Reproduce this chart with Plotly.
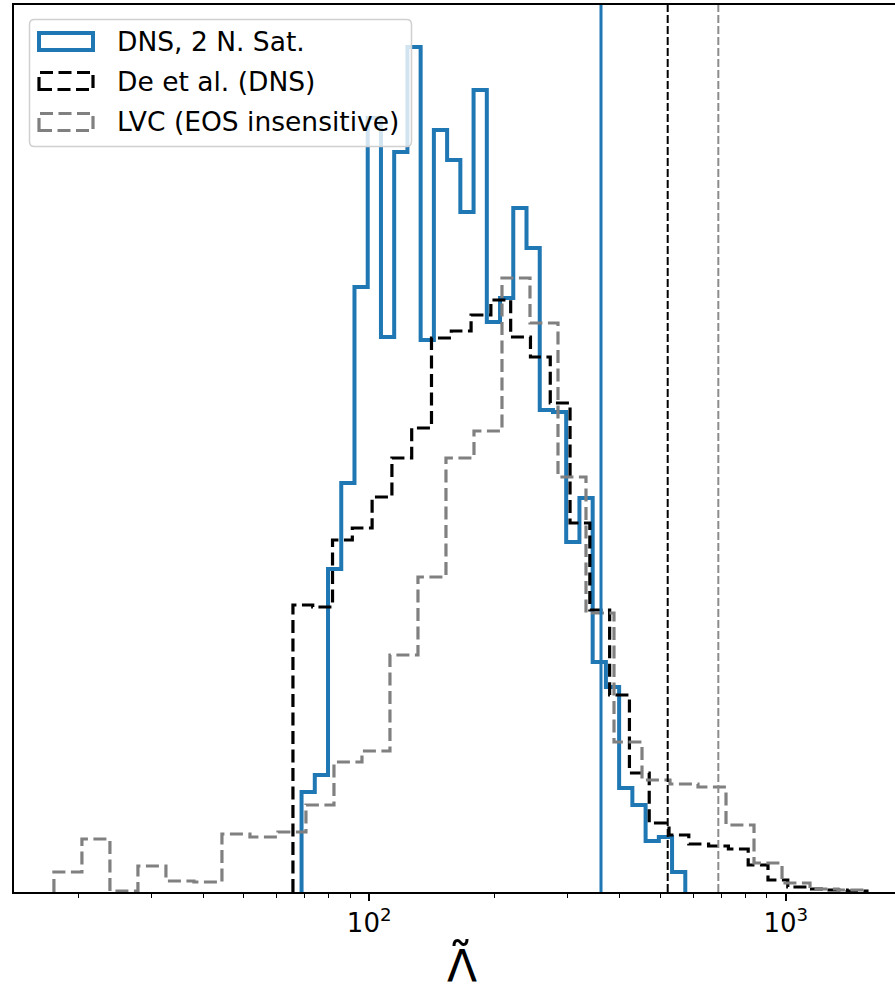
import numpy as np
import plotly.graph_objects as go

# ---------------- data ----------------
# Histogram bin ranges (Lambda-tilde), 29 log-spaced bins each, and bin heights (arbitrary units)
dns_range = [68.8, 574.0]
dns_heights = [100, 117, 323, 409, 605, 774, 555, 740, 845, 552, 762, 732, 680, 802, 570,
               594, 684, 644, 482, 480, 350, 394, 230, 205, 104, 87, 51, 55, 20]

de_range = [65.6, 1567.0]
de_heights = [287, 285, 352, 364, 395, 434, 464, 554, 561, 577, 592, 555, 535, 489, 369,
              282, 197, 119, 69, 57, 48, 46, 43, 27, 12, 5, 3, 2, 1]

lvc_range = [17.5, 1559.0]
lvc_heights = [20, 53, 1, 26, 11, 10, 58, 55, 60, 87, 130, 141, 237, 315, 434,
               461, 614, 569, 415, 279, 150, 112, 108, 105, 67, 29, 9, 3, 2]

# vertical reference lines
dns_vline = 360.2
de_vline = 520.8
lvc_vline = 689.0

labels = ["DNS, 2 N. Sat.", "De et al. (DNS)", "LVC (EOS insensitive)"]
xtick_vals = [100, 1000]
xtick_text = ["10<sup>2</sup>", "10<sup>3</sup>"]

# ---------------- layout constants ----------------
W, H = 895, 992
ML, MR, MT, MB = 14, 0, 5, 100
PW, PH = W - ML - MR, H - MT - MB
YMAX = 887.0
XRANGE = [1.1472, 3.2624]

BLUE = "#1f77b4"
GRAY = "#808080"
FONT = "DejaVu Sans"
HDASH = "13px,5.5px"


def fx(px):
    return (px - ML) / PW


def fy(py):
    return (MT + PH - py) / PH


def step_xy(rng, heights):
    edges = np.logspace(np.log10(rng[0]), np.log10(rng[1]), len(heights) + 1)
    xs = [edges[0]] + list(edges[:-1]) + [edges[-1], edges[-1]]
    ys = [0] + list(heights) + [heights[-1], 0]
    return xs, ys


fig = go.Figure()

for rng, hts, color, width, dash in [
    (dns_range, dns_heights, BLUE, 4, "solid"),
    (de_range, de_heights, "black", 3.2, HDASH),
    (lvc_range, lvc_heights, GRAY, 3.2, HDASH),
]:
    xs, ys = step_xy(rng, hts)
    fig.add_trace(go.Scatter(x=xs, y=ys, mode="lines",
                             line=dict(color=color, width=width, dash=dash, shape="hv"),
                             showlegend=False, hoverinfo="skip"))

for v, color, width, dash in [
    (dns_vline, BLUE, 3, "solid"),
    (de_vline, "black", 2, "8px,3px"),
    (lvc_vline, "#8c8c8c", 2, "8px,3px"),
]:
    fig.add_trace(go.Scatter(x=[v, v], y=[0, YMAX], mode="lines",
                             line=dict(color=color, width=width, dash=dash),
                             showlegend=False, hoverinfo="skip"))

minor_vals = [m * 10 ** e for e in (1, 2, 3) for m in range(2, 10)]

fig.update_layout(
    width=W, height=H,
    margin=dict(l=ML, r=MR, t=MT, b=MB, pad=0),
    plot_bgcolor="white", paper_bgcolor="white",
    font=dict(family=FONT, size=26, color="black"),
    showlegend=False,
    xaxis=dict(type="log", range=XRANGE, showgrid=False, zeroline=False,
               showline=True, linecolor="black", linewidth=2, mirror=True,
               tickmode="array", tickvals=xtick_vals, ticktext=xtick_text,
               ticks="outside", ticklen=7, tickwidth=1.5, tickcolor="black",
               tickfont=dict(family=FONT, size=26, color="black"),
               minor=dict(tickmode="array", tickvals=minor_vals, ticks="outside",
                          ticklen=4, tickwidth=1.2, tickcolor="black", showgrid=False)),
    yaxis=dict(range=[0, YMAX], showgrid=False, zeroline=False, showticklabels=False,
               ticks="", showline=True, linecolor="black", linewidth=2, mirror=False),
)

# ---------------- custom legend (patch-style entries) ----------------
x0, x1, y0, y1, r = 29.5, 411.5, 19.5, 146.5, 5
rx, ry = r / PW, r / PH
path = (f"M {fx(x0)+rx},{fy(y0)} L {fx(x1)-rx},{fy(y0)} Q {fx(x1)},{fy(y0)} {fx(x1)},{fy(y0)-ry} "
        f"L {fx(x1)},{fy(y1)+ry} Q {fx(x1)},{fy(y1)} {fx(x1)-rx},{fy(y1)} "
        f"L {fx(x0)+rx},{fy(y1)} Q {fx(x0)},{fy(y1)} {fx(x0)},{fy(y1)+ry} "
        f"L {fx(x0)},{fy(y0)-ry} Q {fx(x0)},{fy(y0)} {fx(x0)+rx},{fy(y0)} Z")
shapes = [dict(type="path", path=path, xref="paper", yref="paper", layer="above",
               fillcolor="rgba(255,255,255,0.8)", line=dict(color="#d0d0d0", width=1.5))]

patch_rows = [
    (33.0, 50.0, BLUE, 4, "solid"),
    (72.5, 89.5, "black", 3.2, HDASH),
    (113.5, 130.5, GRAY, 3.2, HDASH),
]
text_y = [41.5, 81.5, 121.5]
annotations = []
for (py0, py1, color, width, dash), lab, ty in zip(patch_rows, labels, text_y):
    shapes.append(dict(type="rect", xref="paper", yref="paper", layer="above",
                       x0=fx(39), x1=fx(93), y0=fy(py1), y1=fy(py0),
                       line=dict(color=color, width=width, dash=dash),
                       fillcolor="rgba(0,0,0,0)"))
    annotations.append(dict(text=lab, xref="paper", yref="paper", x=fx(115), y=fy(ty),
                            xanchor="left", yanchor="middle", showarrow=False,
                            font=dict(family=FONT, size=26.5, color="black")))

# axis title: Lambda with a tilde accent above it
annotations.append(dict(text="Λ", xref="paper", yref="paper", x=fx(461.5), y=fy(967),
                        xanchor="center", yanchor="middle", showarrow=False,
                        font=dict(family=FONT, size=44, color="black")))
annotations.append(dict(text="˜", xref="paper", yref="paper", x=fx(461.0), y=fy(961),
                        xanchor="center", yanchor="middle", showarrow=False,
                        font=dict(family=FONT, size=50, color="black")))

fig.update_layout(shapes=shapes, annotations=annotations)
fig.write_html("out.html")
